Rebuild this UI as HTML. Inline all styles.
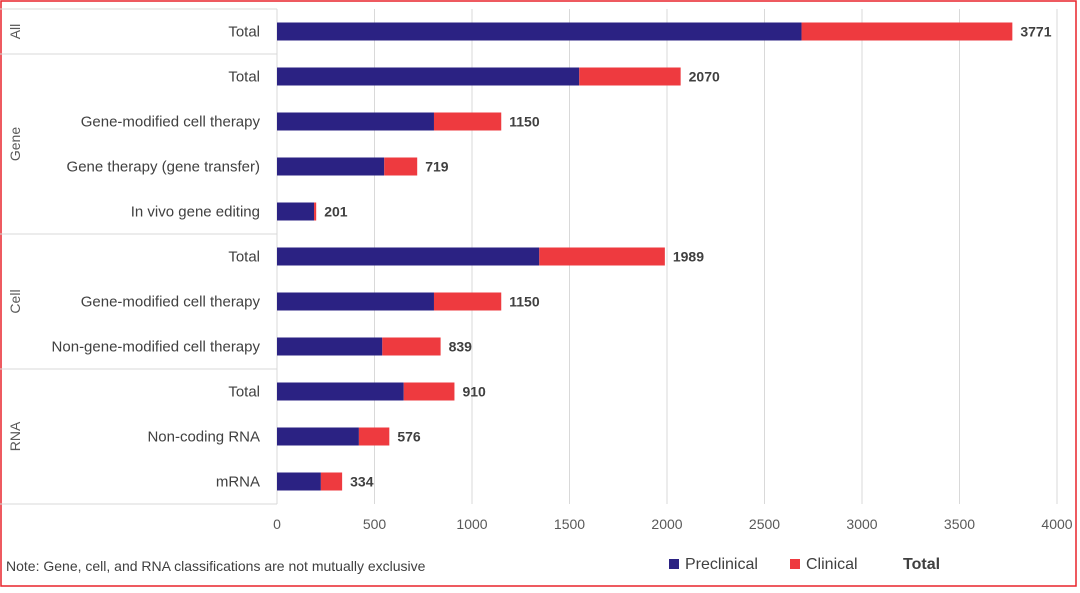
<!DOCTYPE html>
<html><head><meta charset="utf-8">
<style>
body{margin:0;background:#fff;}
svg text{font-family:"Liberation Sans",sans-serif;}
</style></head>
<body>
<svg id="chart" width="1080" height="588" xmlns="http://www.w3.org/2000/svg">
<rect x="1" y="1" width="1075" height="585" fill="#fff" stroke="#e8242b" stroke-width="1.5"/>
<g id="grid"></g>
<g id="labelbox"></g>
<g id="bars"></g>
<g id="xticks"></g>
<text x="6" y="571" font-size="14" fill="#404040">Note: Gene, cell, and RNA classifications are not mutually exclusive</text>
<g>
<rect x="669" y="559" width="10" height="10" fill="#2b2283"/>
<text x="685" y="569" font-size="16" fill="#404040">Preclinical</text>
<rect x="790" y="559" width="10" height="10" fill="#ee3a3f"/>
<text x="806" y="569" font-size="16" fill="#404040">Clinical</text>
<text x="903" y="569" font-size="16" font-weight="bold" fill="#404040">Total</text>
</g>
</svg>
<script>
const categories=["Total","Total","Gene-modified cell therapy","Gene therapy (gene transfer)","In vivo gene editing","Total","Gene-modified cell therapy","Non-gene-modified cell therapy","Total","Non-coding RNA","mRNA"];
const preclinical=[2690,1550,805,550,190,1345,805,540,650,420,225];
const totals=[3771,2070,1150,719,201,1989,1150,839,910,576,334];
const groups=["All","Gene","Cell","RNA"];
const groupSizes=[1,4,3,3];
const xTicks=[0,500,1000,1500,2000,2500,3000,3500,4000];
const NS="http://www.w3.org/2000/svg";
const x0=277,xPer=0.195,rowTop=9,rowH=45;
const X=v=>x0+v*xPer;
const Y=i=>rowTop+rowH*i+22.5;
function mk(t,a,p,txt){const e=document.createElementNS(NS,t);for(const k in a)e.setAttribute(k,a[k]);if(txt!==undefined)e.textContent=txt;p.appendChild(e);return e;}
const grid=document.getElementById('grid'),xt=document.getElementById('xticks');
xTicks.forEach(v=>{
 if(v>0){const l=mk('line',{x1:X(v),x2:X(v),y1:rowTop,y2:504,stroke:'#d9d9d9'},grid);
 
 }
 const t=mk('text',{x:X(v),y:529,'text-anchor':'middle','font-size':14,fill:'#595959'},xt,String(v));
 
 
});
const lb=document.getElementById('labelbox');
const bottom=rowTop+rowH*categories.length;
mk('line',{x1:0,x2:X(0),y1:rowTop,y2:rowTop,stroke:'#d9d9d9'},lb);
mk('line',{x1:X(0),x2:X(0),y1:rowTop,y2:bottom,stroke:'#d9d9d9'},lb);
let start=0;
groups.forEach((g,gi)=>{
 const end=start+groupSizes[gi];
 const yb=rowTop+rowH*end;
 mk('line',{x1:0,x2:X(0),y1:yb,y2:yb,stroke:'#d9d9d9'},lb);
 const cy=(rowTop+rowH*start+yb)/2;
 const t=mk('text',{x:20,y:cy,'text-anchor':'middle','font-size':14,fill:'#595959',transform:`rotate(-90 20 ${cy})`},lb,g);
 
 
 start=end;
});
const bars=document.getElementById('bars');
categories.forEach((c,i)=>{
 const y=Y(i);
 const t=mk('text',{x:260,y:y+5,'text-anchor':'end','font-size':15,fill:'#404040'},bars,c);
 
 
 const p=mk('rect',{x:X(0),y:y-9,width:X(preclinical[i])-X(0),height:18,fill:'#2b2283'},bars);
 
 
 const cl=mk('rect',{x:X(preclinical[i]),y:y-9,width:X(totals[i])-X(preclinical[i]),height:18,fill:'#ee3a3f'},bars);
 
 
 const v=mk('text',{x:X(totals[i])+8,y:y+5,'font-size':14,'font-weight':'bold',fill:'#404040'},bars,String(totals[i]));
 
 
});
</script>
</body></html>
